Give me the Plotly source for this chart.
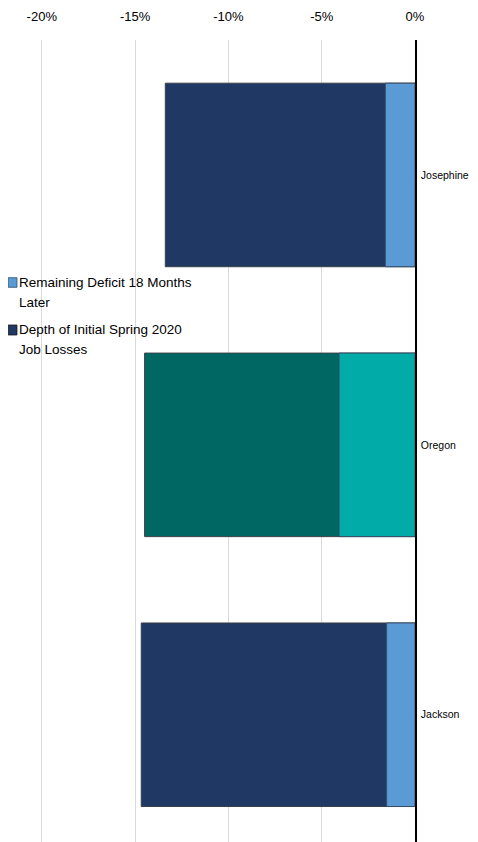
import plotly.graph_objects as go

categories = ["Jackson", "Oregon", "Josephine"]
depth_initial = [-14.67, -14.49, -13.38]
remaining_deficit = [-1.52, -4.07, -1.59]
depth_colors = ["#203864", "#016763", "#203864"]
remaining_colors = ["#5b9bd5", "#00aba8", "#5b9bd5"]
tick_vals = [-20, -15, -10, -5, 0]
tick_text = ["-20%", "-15%", "-10%", "-5%", "0%"]
legend_names = ["Remaining Deficit 18 Months", "Later", "Depth of Initial Spring 2020", "Job Losses"]

FONT = "Liberation Sans, Arial, sans-serif"

fig = go.Figure()
fig.add_trace(go.Bar(
    y=categories, x=depth_initial, orientation="h",
    name="Depth of Initial Spring 2020 Job Losses",
    marker=dict(color=depth_colors, line=dict(color="#3a3f47", width=1)),
    width=0.68, showlegend=False,
))
fig.add_trace(go.Bar(
    y=categories, x=remaining_deficit, orientation="h",
    name="Remaining Deficit 18 Months Later",
    marker=dict(color=remaining_colors, line=dict(color="#3a4f66", width=1)),
    width=0.68, showlegend=False,
))

H = 834
T = 32
PH = H - T
def py(fig_y):
    return (H - fig_y) / PH

legend_box = dict(type="rect", xref="paper", yref="paper", x0=0, x1=0.4717,
                  y0=py(342), y1=py(260), fillcolor="white", line=dict(width=0),
                  layer="between")
swatch1 = dict(type="rect", xref="paper", yref="paper", x0=0.0005, x1=0.0221,
               y0=py(279.3), y1=py(269.7), fillcolor=remaining_colors[0],
               line=dict(color="#2f4f6f", width=0.8), layer="above")
swatch2 = dict(type="rect", xref="paper", yref="paper", x0=0.0005, x1=0.0221,
               y0=py(327), y1=py(317), fillcolor=depth_colors[0],
               line=dict(color="#1a1a1a", width=0.8), layer="above")
fig.update_layout(shapes=[legend_box, swatch1, swatch2])

legend_fig_y = [274.7, 295, 321, 341]
for txt, yy in zip(legend_names, legend_fig_y):
    fig.add_annotation(
        text=txt, x=0.0253, y=py(yy), xref="paper", yref="paper",
        xanchor="left", yanchor="middle", showarrow=False, borderpad=0,
        font=dict(family=FONT, size=13.5, color="#000000"),
    )

fig.update_layout(
    width=470, height=H,
    barmode="overlay",
    plot_bgcolor="white", paper_bgcolor="white",
    margin=dict(l=0, r=63, t=T, b=0, autoexpand=False),
    font=dict(family=FONT, size=13, color="#000000"),
    showlegend=False,
    xaxis=dict(
        side="top", range=[-21.81, 0], automargin=False,
        tickvals=tick_vals, ticktext=tick_text,
        showgrid=True, gridcolor="#d9d9d9", gridwidth=1,
        zeroline=False, showline=False, ticks="",
        tickfont=dict(family=FONT, size=13),
        ticklabelstandoff=15,
    ),
    yaxis=dict(
        side="right", range=[2.5 - PH / 269.9, 2.5], automargin=False,
        categoryorder="array", categoryarray=categories,
        showgrid=False, zeroline=False,
        showline=True, linecolor="#000000", linewidth=1.5,
        ticks="", tickfont=dict(family=FONT, size=10.5),
        ticklabelstandoff=2,
    ),
)

fig.write_html("out.html")
